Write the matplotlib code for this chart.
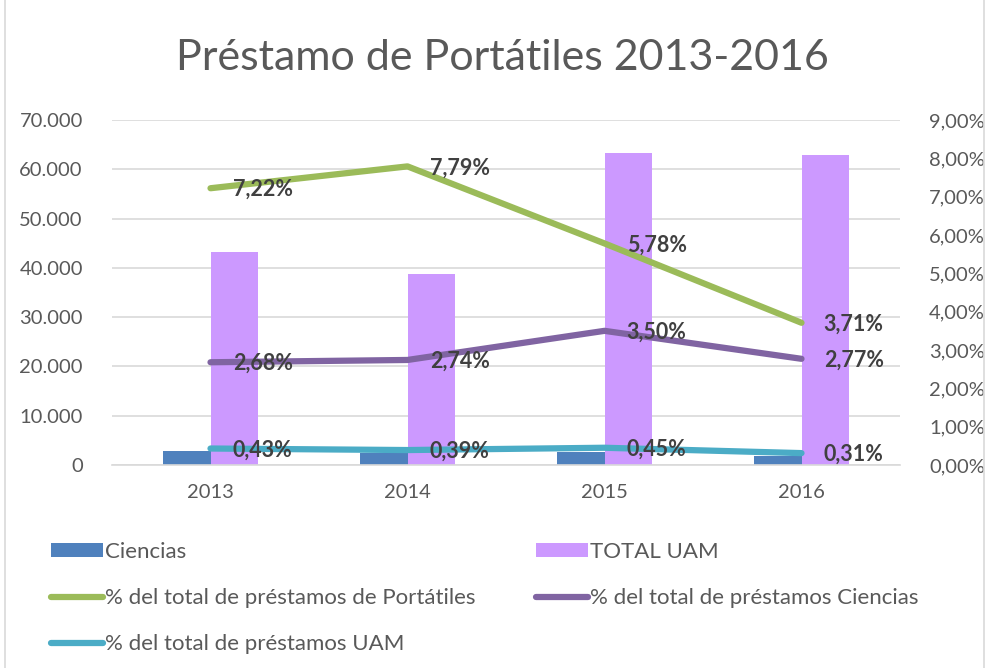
import matplotlib
matplotlib.use("Agg")
import matplotlib.pyplot as plt
from matplotlib.lines import Line2D
from matplotlib.patches import Patch, Rectangle
import numpy as np

years = ["2013", "2014", "2015", "2016"]
ciencias = [2900, 2450, 2600, 1800]
total_uam = [43200, 38800, 63400, 62800]
pct_portatiles = [7.22, 7.79, 5.78, 3.71]
pct_ciencias = [2.68, 2.74, 3.50, 2.77]
pct_uam = [0.43, 0.39, 0.45, 0.31]

left_ticks = [0, 10000, 20000, 30000, 40000, 50000, 60000, 70000]
left_labels = ["0", "10.000", "20.000", "30.000", "40.000", "50.000", "60.000", "70.000"]
right_ticks = [0, 1, 2, 3, 4, 5, 6, 7, 8, 9]
right_labels = ["0,00%", "1,00%", "2,00%", "3,00%", "4,00%", "5,00%", "6,00%", "7,00%", "8,00%", "9,00%"]

C_CIEN = "#4F81BD"
C_UAM = "#CC99FF"
C_GREEN = "#9BBB59"
C_PURPLE = "#8064A2"
C_CYAN = "#4BACC6"
TXT = "#595959"
LBL = "#404040"

plt.rcParams["font.family"] = ["Lato", "DejaVu Sans"]

fig = plt.figure(figsize=(9.89, 6.68), dpi=100)
fig.patches.append(Rectangle((0.005, -0.01), 0.99, 1.02, transform=fig.transFigure,
                             fill=False, edgecolor="#D9D9D9", linewidth=1.2))

ax = fig.add_axes([112/989, 1-465/668, (900-112)/989, (465-120)/668])
x = np.arange(len(years))
w = 0.24
ax.bar(x - w/2, ciencias, width=w, color=C_CIEN, zorder=2)
ax.bar(x + w/2, total_uam, width=w, color=C_UAM, zorder=2)
ax.set_xlim(-0.5, 3.5)
ax.set_ylim(0, 70000)
ax.set_yticks(left_ticks)
ax.set_yticklabels(left_labels)
ax.set_xticks(x)
ax.set_xticklabels(years)
ax.grid(axis="y", color="#D9D9D9", linewidth=1.2, zorder=0)
ax.set_axisbelow(True)
for s in ["top", "right", "left"]:
    ax.spines[s].set_visible(False)
ax.spines["bottom"].set_color("#D9D9D9")
ax.spines["bottom"].set_linewidth(1.2)
ax.tick_params(axis="both", length=0, colors=TXT, labelsize=14.5)
ax.tick_params(axis="y", pad=21)
ax.tick_params(axis="x", pad=14)

ax2 = ax.twinx()
ax2.set_ylim(0, 9)
ax2.set_yticks(right_ticks)
ax2.set_yticklabels(right_labels)
for s in ax2.spines.values():
    s.set_visible(False)
ax2.tick_params(axis="y", length=0, colors=TXT, labelsize=14.5, pad=21)

series = [(pct_portatiles, C_GREEN), (pct_ciencias, C_PURPLE), (pct_uam, C_CYAN)]
for vals, col in series:
    ax2.plot(x, vals, color=col, linewidth=4.5, solid_capstyle="round", solid_joinstyle="round", zorder=3)
    for xi, v in zip(x, vals):
        ax2.annotate(f"{v:.2f}%".replace(".", ","), (xi, v), xytext=(16, -1),
                     textcoords="offset points", ha="left", va="center",
                     fontsize=15.5, fontweight="bold", color=LBL, zorder=4)

fig.text(0.508, 1-58/668, "Préstamo de Portátiles 2013-2016", ha="center", va="center",
         fontsize=31, color=TXT)

h_cien = Patch(facecolor=C_CIEN, edgecolor="none")
h_uam = Patch(facecolor=C_UAM, edgecolor="none")
h_g = Line2D([], [], color=C_GREEN, linewidth=4.5, solid_capstyle="round")
h_p = Line2D([], [], color=C_PURPLE, linewidth=4.5, solid_capstyle="round")
h_c = Line2D([], [], color=C_CYAN, linewidth=4.5, solid_capstyle="round")
kw = dict(frameon=False, fontsize=16, labelcolor=TXT, handlelength=2.35, handleheight=0.6,
          handletextpad=0.1, labelspacing=1.17, borderaxespad=0, borderpad=0)
leg1 = fig.legend([h_cien, h_g, h_c], ["Ciencias", "% del total de préstamos de Portátiles",
                  "% del total de préstamos UAM"], loc="upper left",
                  bbox_to_anchor=(51/989, 1-542/668), **kw)
leg2 = fig.legend([h_uam, h_p], ["TOTAL UAM", "% del total de préstamos Ciencias"], loc="upper left",
                  bbox_to_anchor=(536/989, 1-542/668), **kw)

fig.savefig("out.png", dpi=100)
